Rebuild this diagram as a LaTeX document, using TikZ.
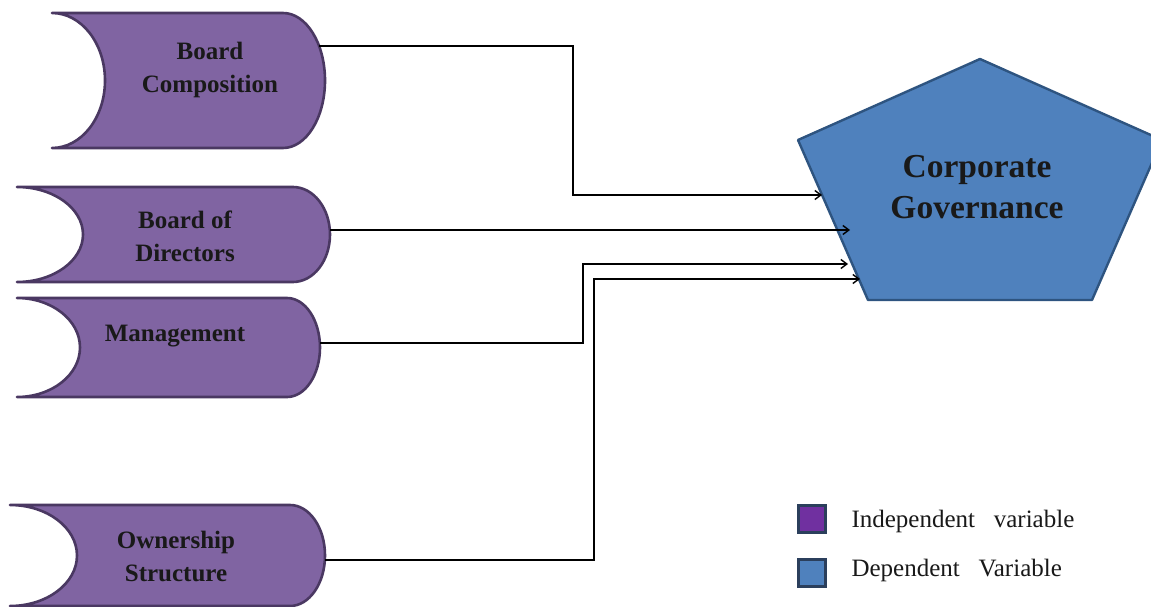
\documentclass[tikz,border=0pt]{standalone}
\usepackage{fontspec}
\setmainfont{Liberation Serif}
\newfontfamily\legfont{Liberation Serif}[WordSpace=3.0]
\usetikzlibrary{arrows.meta}
\definecolor{purfill}{HTML}{8064A2}
\definecolor{purline}{HTML}{4A3862}
\definecolor{bluefill}{HTML}{4F81BD}
\definecolor{blueline}{HTML}{2E5480}
\definecolor{legpur}{HTML}{7030A0}
\definecolor{legline}{HTML}{2B3F5C}
\tikzset{
  dbbox/.style={fill=purfill,draw=purline,line width=2.6pt,line join=round},
  boxtext/.style={align=center,font=\bfseries\fontsize{25}{33}\selectfont,text=black!90},
  conn/.style={draw=black,line width=1.4pt,-{Straight Barb[length=6pt,width=9pt]}},
  legsq/.style={draw=legline,line width=2.5pt,minimum size=27pt,inner sep=0pt},
  legtext/.style={anchor=west,font=\legfont\fontsize{25}{28}\selectfont,text=black!90},
}
\newcommand\dbshape[6]{% xl yt yb xc xr xa
  \pgfmathsetmacro\dbym{(#2+#3)/2}
  \pgfmathsetmacro\dbry{(#3-#2)/2*0.552}
  \pgfmathsetmacro\dbxr{#5+(#6-#5)*0.552}
  \pgfmathsetmacro\dbxl{#1+(#4-#1)*0.552}
  \draw[dbbox] (#1,#2) -- (#5,#2)
    .. controls (\dbxr,#2) and (#6,{\dbym-\dbry}) .. (#6,\dbym)
    .. controls (#6,{\dbym+\dbry}) and (\dbxr,#3) .. (#5,#3)
    -- (#1,#3)
    .. controls (\dbxl,#3) and (#4,{\dbym+\dbry}) .. (#4,\dbym)
    .. controls (#4,{\dbym-\dbry}) and (\dbxl,#2) .. cycle;
}
\begin{document}
\begin{tikzpicture}[x=1pt,y=-1pt]
\useasboundingbox (0,0) rectangle (1151,607);
\clip (0,0) rectangle (1151,607);
\fill[white] (0,0) rectangle (1151,607);

% independent variable shapes
\dbshape{52}{13}{148}{105}{283}{325}
\dbshape{17}{187}{282}{83}{293}{330}
\dbshape{17}{298}{397}{80}{287}{320}
\dbshape{10}{505}{606}{77}{290}{325}

\node[boxtext] (bc) at (210,70) {Board\\Composition};
\node[boxtext] (bd) at (185,236) {Board of\\Directors};
\node[boxtext] (mg) at (175,336) {Management};
\node[boxtext] (os) at (176,556) {Ownership\\Structure};

\coordinate (bcR) at (319,46);
\coordinate (bdR) at (330,230);
\coordinate (mgR) at (320,343);
\coordinate (osR) at (325,560);

% dependent variable pentagon
\draw[fill=bluefill,draw=blueline,line width=2.4pt,line join=round]
  (980,59) -- (1162,140) -- (1092,300) -- (868,300) -- (798,140) -- cycle;
\node[align=center,font=\bfseries\fontsize{33.5}{41}\selectfont,text=black!90] (cg) at (977,187) {Corporate\\Governance};

\coordinate (cgA) at (822,195);
\coordinate (cgB) at (850,230);
\coordinate (cgC) at (848,264);
\coordinate (cgD) at (860,279);

% connectors
\draw[conn] (bcR) -- (573,46) |- (cgA);
\draw[conn] (bdR) -- (cgB);
\draw[conn] (mgR) -- (583,343) |- (cgC);
\draw[conn] (osR) -- (594,560) |- (cgD);

% legend
\node[legsq,fill=legpur] (leg1) at (812,519) {};
\node[legsq,fill=bluefill] (leg2) at (812,573) {};
\node[legtext] (legt1) at (848,521) {Independent variable};
\node[legtext] (legt2) at (848,570) {Dependent Variable};
\end{tikzpicture}
\end{document}
